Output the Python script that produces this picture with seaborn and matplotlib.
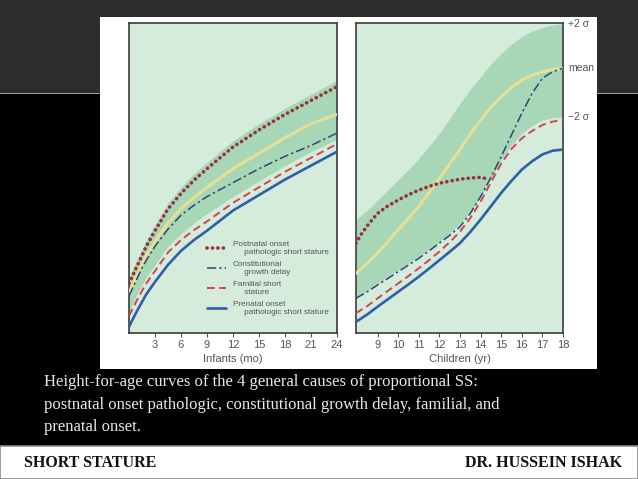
import matplotlib
matplotlib.use("Agg")
import matplotlib.pyplot as plt
import matplotlib.patches as mpatches
import matplotlib.transforms as mtransforms
import seaborn as sns

# ---- data (height in arbitrary units, 0 = bottom of panel, 100 = top) ----
infant_age = [0, 0.5, 1, 1.5, 2, 3, 4.5, 6, 7.5, 9, 12, 15, 18, 21, 24]
inf_band_hi = [18, 21, 24, 27, 30, 35, 42, 47, 51.5, 55, 62, 67.5, 72.5, 77, 81.5]
inf_band_lo = [7, 10, 13, 15.5, 18, 22, 28, 32, 35.5, 38.5, 44, 49, 54, 58.5, 62.5]
inf_mean = [13, 16, 19, 22, 25, 29.5, 35.5, 40, 43.7, 47, 53, 58, 63, 67.5, 70.5]
inf_postnatal = [16, 19, 22, 25, 28, 33, 40, 45, 49.3, 53, 60, 65.5, 70.5, 75, 79.5]
inf_constitutional = [12, 15, 18, 21, 23.5, 28, 33.5, 38, 41.2, 44, 48.5, 53, 57, 60.5, 64.5]
inf_familial = [5.5, 8.3, 11, 13.6, 16, 20, 26, 30, 33.2, 36, 42, 47, 52, 56.5, 61]
inf_prenatal = [2, 4.8, 7.5, 10, 12.5, 16.5, 22, 26.5, 30, 33, 39.5, 44.5, 49.5, 54, 58.5]

child_age = [7.95, 8.5, 9, 9.5, 10, 10.5, 11, 11.5, 12, 12.5, 13, 13.5, 14,
             14.5, 15, 15.5, 16, 16.5, 17, 17.5, 18]
ch_band_hi = [36.5, 39.6, 42.9, 46.1, 49.4, 52.7, 56.3, 60.2, 64.4, 69.2, 74.1,
              78.6, 82.7, 86.7, 90.2, 93.2, 95.6, 97.4, 98.6, 99.4, 99.7]
ch_band_lo = [11.7, 13.8, 16.0, 18.2, 20.4, 22.5, 24.7, 27.0, 29.5, 32.2, 35.3,
              39.2, 44.0, 49.8, 55.8, 60.8, 64.4, 66.9, 68.7, 69.5, 69.8]
ch_mean = [19.2, 22.5, 25.8, 29.5, 33.3, 37.0, 40.8, 45.3, 49.9, 54.6, 59.2,
           64.2, 68.7, 72.8, 76.2, 79.2, 81.6, 83.2, 84.3, 85.0, 85.4]
ch_familial = [6.4, 8.7, 11.2, 13.6, 16.0, 18.4, 20.9, 23.5, 26.3, 29.3, 32.7,
               37.1, 42.4, 48.6, 54.7, 59.4, 62.8, 65.2, 67.1, 68.2, 68.7]
ch_prenatal = [3.6, 6.0, 8.5, 10.9, 13.3, 15.7, 18.2, 20.8, 23.5, 26.2, 29.0,
               32.6, 36.6, 40.9, 45.2, 49.1, 52.7, 55.4, 57.6, 58.8, 59.2]
ch_constitutional = [11.2, 13.3, 15.5, 17.6, 19.8, 21.9, 24.1, 26.5, 29.0, 31.5,
                     34.3, 38.6, 44.0, 50.2, 56.9, 63.9, 70.9, 77.3, 82.2, 84.3, 85.4]

ch_post_age = [7.95, 8.2, 8.5, 9, 9.5, 10, 10.5, 11, 11.5, 12, 12.5, 13, 13.5, 14, 14.2]
ch_postnatal = [28.9, 31.8, 34.6, 38.6, 41.0, 42.9, 44.6, 46.1, 47.3, 48.3, 49.0,
                49.6, 50.0, 50.2, 49.9]

infant_ticks = [3, 6, 9, 12, 15, 18, 21, 24]
child_ticks = [9, 10, 11, 12, 13, 14, 15, 16, 17, 18]

legend_labels = ["Postnatal onset\n     pathologic short stature",
                 "Constitutional\n     growth delay",
                 "Familial short\n     stature",
                 "Prenatal onset\n     pathologic short stature"]

caption = ("Height-for-age curves of the 4 general causes of proportional SS:\n"
           "postnatal onset pathologic, constitutional growth delay, familial, and\n"
           "prenatal onset.")

sns.set_theme(style="white")
plt.rcParams["font.family"] = ["Liberation Sans", "DejaVu Sans"]

bg_light = "#d5ebdc"
band_col = "#a7d7b7"
c_post = "#9c2f3d"
c_mean = "#e6df94"
c_const = "#2a4877"
c_fam = "#d2444f"
c_pre = "#2f5fa6"
txt = "#555555"
serif = ["Liberation Serif", "DejaVu Serif"]

W, H = 638, 479
fig = plt.figure(figsize=(6.38, 4.79), dpi=100)
fig.patch.set_facecolor("black")


def rect(x0, y0, x1, y1, **kw):
    # pixel box (top-left origin) -> figure patch
    r = mpatches.Rectangle((x0 / W, 1 - y1 / H), (x1 - x0) / W, (y1 - y0) / H,
                           transform=fig.transFigure, **kw)
    fig.patches.append(r)


# slide background
rect(0, 0, 638, 93, facecolor="#2c2c2c", edgecolor="none", zorder=-10)
rect(0, 92.5, 638, 94, facecolor="#a89e8c", edgecolor="none", zorder=-9)
rect(100, 17, 597, 369, facecolor="white", edgecolor="none", zorder=-8)
rect(0, 446, 638, 479, facecolor="white", edgecolor="#8a8a8a", linewidth=1.2, zorder=-8)


def make_ax(x0, x1):
    return fig.add_axes([x0 / W, 1 - 333 / H, (x1 - x0) / W, 310 / H])


ax1 = make_ax(129, 337)
ax2 = make_ax(356, 563)


def draw_lines(ax, post_x, post_y, x, mean, const, fam, pre, lab=True):
    sns.lineplot(x=x, y=mean, ax=ax, color=c_mean, lw=2.2, zorder=3)
    sns.lineplot(x=x, y=pre, ax=ax, color=c_pre, lw=1.9, zorder=4,
                 label=legend_labels[3] if lab else None)
    sns.lineplot(x=x, y=fam, ax=ax, color=c_fam, lw=1.4, zorder=4,
                 linestyle=(0, (4, 2.2)),
                 label=legend_labels[2] if lab else None)
    sns.lineplot(x=x, y=const, ax=ax, color=c_const, lw=1.1, zorder=5,
                 linestyle=(0, (6, 2, 1.5, 2)),
                 label=legend_labels[1] if lab else None)
    sns.lineplot(x=post_x, y=post_y, ax=ax, color=c_post, lw=2.6, zorder=6,
                 linestyle=(0, (0.05, 1.45)), dash_capstyle="round",
                 label=legend_labels[0] if lab else None)


for ax in (ax1, ax2):
    ax.set_facecolor(bg_light)
    for s in ax.spines.values():
        s.set_color("#3c3c3c")
        s.set_linewidth(1.2)
    ax.set_ylim(0, 100)
    ax.set_yticks([])
    ax.tick_params(axis="x", direction="out", length=3, width=0.8,
                   colors="#555555", labelcolor=txt, labelsize=8, pad=2,
                   bottom=True)

# infants panel
ax1.fill_between(infant_age, inf_band_lo, inf_band_hi, color=band_col, lw=0, zorder=1)
draw_lines(ax1, infant_age, inf_postnatal, infant_age, inf_mean,
           inf_constitutional, inf_familial, inf_prenatal, lab=True)
ax1.set_xlim(0, 24)
ax1.set_xticks(infant_ticks)
ax1.set_xlabel("Infants (mo)", fontsize=8, color=txt, labelpad=3)
ax1.set_ylabel("Height", fontsize=8, color=txt, labelpad=5)

handles, labels = ax1.get_legend_handles_labels()
order = [labels.index(l) for l in legend_labels]
leg = ax1.legend([handles[i] for i in order], [labels[i] for i in order],
                 loc="lower right", bbox_to_anchor=(0.975, 0.045), frameon=False,
                 fontsize=5.9, handlelength=2.3, handletextpad=0.8,
                 labelspacing=0.62, borderaxespad=0.0)
for t in leg.get_texts():
    t.set_color(txt)

# children panel
ax2.fill_between(child_age, ch_band_lo, ch_band_hi, color=band_col, lw=0, zorder=1)
draw_lines(ax2, ch_post_age, ch_postnatal, child_age, ch_mean,
           ch_constitutional, ch_familial, ch_prenatal, lab=False)
ax2.set_xlim(7.95, 18)
ax2.set_xticks(child_ticks)
ax2.set_xlabel("Children (yr)", fontsize=8, color=txt, labelpad=3)
ax2.set_ylabel("")
if ax2.get_legend() is not None:
    ax2.get_legend().remove()

# sigma labels on the right
trans = mtransforms.blended_transform_factory(ax2.transAxes, ax2.transData)
for val, s in [(ch_band_hi[-1], "+2 σ"), (ch_mean[-1], "mean"), (ch_band_lo[-1], "−2 σ")]:
    ax2.text(1.025, val, s, transform=trans, fontsize=7.5, color=txt,
             va="center", ha="left", clip_on=False)

# caption and footer
fig.text(44 / W, 1 - 374 / H, caption, fontsize=12, color="#e8e8e8",
         family=serif, va="top", ha="left", linespacing=1.55)
fig.text(24 / W, 1 - 463 / H, "SHORT STATURE", fontsize=11.5, fontweight="bold",
         color="#111111", family=serif, va="center", ha="left")
fig.text(622 / W, 1 - 463 / H, "DR. HUSSEIN ISHAK", fontsize=11.5, fontweight="bold",
         color="#111111", family=serif, va="center", ha="right")

fig.savefig("out.png", dpi=100, facecolor=fig.get_facecolor())
